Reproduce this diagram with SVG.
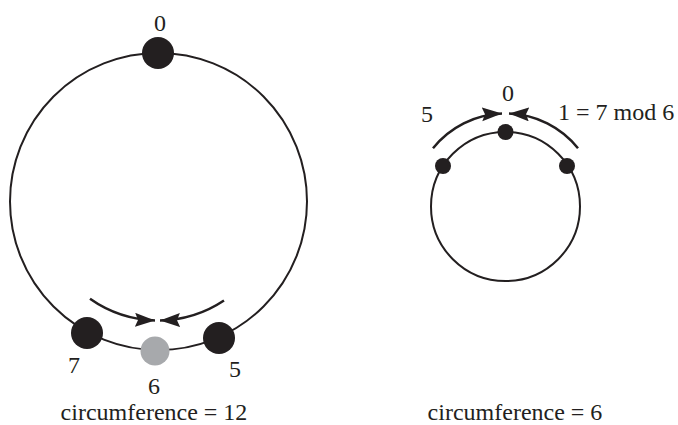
<svg xmlns="http://www.w3.org/2000/svg" width="678" height="425" viewBox="0 0 678 425">
<defs>
<marker id="ah" markerUnits="userSpaceOnUse" markerWidth="22" markerHeight="16" refX="20" refY="7" orient="auto">
<path d="M0,0 L20,7 L0,14 L3,7 z" fill="#231f20"/>
</marker>
<style>
.ring{fill:none;stroke:#231f20;stroke-width:2}
.arr{fill:none;stroke:#231f20;stroke-width:2.5;marker-end:url(#ah)}
.dot{fill:#231f20}
.gray{fill:#a7a9ac}
.lbl{font-family:'Liberation Serif','Times New Roman',serif;font-size:24px;fill:#231f20;text-anchor:middle}
</style>
</defs>
<rect width="678" height="425" fill="#fff"/>
<g id="ring12"><circle class="ring" cx="158.5" cy="201.5" r="148.5"/></g>
<g id="ring6"><circle class="ring" cx="505.5" cy="206.5" r="74.5"/></g>
<g id="connectors">
<path class="arr" d="M90,298.8 A119,119 0 0 0 155,320.4"/>
<path class="arr" d="M224,300.5 A119,119 0 0 1 160,320.4"/>
<path class="arr" d="M433,148.3 A93,93 0 0 1 502,113.6"/>
<path class="arr" d="M578,148.3 A93,93 0 0 0 509,113.6"/>
</g>
<g font-family="Liberation Serif, Times New Roman, serif" font-size="24" fill="#231f20" text-anchor="middle">
<g id="n0"><circle class="dot" cx="158" cy="53" r="16"/><text class="lbl" x="160" y="31">0</text></g>
<g id="n7"><circle class="dot" cx="87" cy="333" r="16"/><text class="lbl" x="74" y="373">7</text></g>
<g id="n6"><circle class="gray" cx="155" cy="351" r="14.5"/><text class="lbl" x="154" y="394">6</text></g>
<g id="n5"><circle class="dot" cx="219" cy="338" r="16"/><text class="lbl" x="235" y="377">5</text></g>
<g id="s0"><circle class="dot" cx="505.5" cy="132" r="8"/><text class="lbl" x="508" y="101">0</text></g>
<g id="s5"><circle class="dot" cx="443" cy="166" r="8"/><text class="lbl" x="427" y="122">5</text></g>
<g id="s1"><circle class="dot" cx="567" cy="166" r="8"/><text class="lbl" x="558" y="120" text-anchor="start" style="text-anchor:start">1 = 7 mod 6</text></g>
<text class="lbl" x="154" y="420">circumference = 12</text>
<text class="lbl" x="515" y="420">circumference = 6</text>
</g>
</svg>
